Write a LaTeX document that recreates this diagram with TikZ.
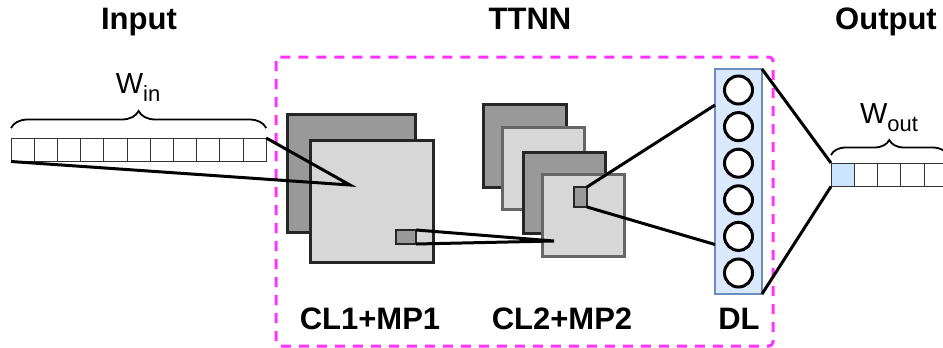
\documentclass[tikz,border=0pt]{standalone}
\usepackage{fontspec}
\setmainfont{Liberation Sans}
\usetikzlibrary{decorations.pathreplacing,calc}
\definecolor{mapgray}{HTML}{999999}
\definecolor{maplight}{HTML}{D7D7D7}
\definecolor{mapedge}{HTML}{262626}
\definecolor{mapedgelight}{HTML}{666666}
\definecolor{dlfill}{HTML}{DAE8FC}
\definecolor{dledge}{HTML}{6C8EBF}
\definecolor{outfill}{HTML}{CCE5FF}
\definecolor{framecol}{HTML}{FF33FF}
\newcommand\lowsub[1]{\raisebox{-8pt}{\fontsize{22}{22}\selectfont #1}}
\begin{document}
\begin{tikzpicture}[x=1pt,y=-1pt,
  box/.style={rectangle, inner sep=0pt, outer sep=0pt, anchor=north west},
  mapdark/.style={box, fill=mapgray, draw=mapedge, line width=3pt},
  maplightA/.style={box, fill=maplight, draw=mapedge, line width=3pt},
  maplightB/.style={box, fill=maplight, draw=mapedgelight, line width=3pt},
  cell/.style={box, draw=black!80, line width=1pt, minimum width=23.2pt, minimum height=23.5pt},
  link/.style={draw=black, line width=3pt},
  neuron/.style={circle, draw=black, line width=3pt, fill=white, minimum size=28pt, inner sep=0pt},
  dlbox/.style={box, fill=dlfill, draw=dledge, line width=2.5pt},
  bracestyle/.style={draw=black, line width=1.8pt, decorate, decoration={brace, amplitude=#1}},
  title/.style={anchor=base, font=\fontsize{31}{36}\selectfont\bfseries},
  wlabel/.style={anchor=base, font=\fontsize{29}{34}\selectfont},
  frame/.style={draw=framecol, line width=3pt, dash pattern=on 10pt off 8pt, rounded corners=4pt}
]
\path[use as bounding box] (0,0) rectangle (943,348);
\clip (0,0) rectangle (943,348);

% headings
\node[title] (hin) at (139,29) {Input};
\node[title] (httnn) at (530,29) {TTNN};
\node[title] (hout) at (886,29) {Output};

% network frame
\draw[frame] (276,57) rectangle (773,346);

% input window
\foreach \i in {1,...,11}
  \node[cell] (in\i) at ({11+(\i-1)*23.2},138) {};
\draw[bracestyle=17pt] ([yshift=10pt]in1.north west) -- ([yshift=10pt]in11.north east);
\node[wlabel] (win) at (138,93) {W\lowsub{in}};

% first convolution + pooling
\node[mapdark, minimum width=128pt, minimum height=118pt] (c1a) at (287,114) {};
\node[maplightA, minimum width=123pt, minimum height=122pt] (c1b) at (310,140) {};
\node[mapdark, line width=2.5pt, minimum width=20pt, minimum height=14pt] (k1) at (396,230) {};
\coordinate (p1) at (350,185);
\draw[link] (in11.north east) -- (p1) -- (in1.south west);

% second convolution + pooling
\node[mapdark, minimum width=83pt, minimum height=83pt] (c2a) at (483,104) {};
\node[maplightB, minimum width=82pt, minimum height=82pt] (c2b) at (502,127) {};
\node[mapdark, minimum width=82pt, minimum height=81pt] (c2c) at (523,152) {};
\node[maplightB, minimum width=82pt, minimum height=82pt] (c2d) at (542,174) {};
\node[mapdark, line width=2.5pt, minimum width=13pt, minimum height=20pt] (k2) at (574,187) {};
\coordinate (p2) at (554,241);
\draw[link] (k1.north east) -- (p2) -- (k1.south east);

% dense layer
\node[dlbox, minimum width=47pt, minimum height=225pt] (dl) at (715,69) {};
\foreach \j in {1,...,6}
  \node[neuron] (n\j) at (738.5,{90+(\j-1)*36.6}) {};
\draw[link] (k2.north east) -- ($(dl.north west)!0.16!(dl.south west)$);
\draw[link] (k2.south east) -- ($(dl.north west)!0.78!(dl.south west)$);

% output window
\foreach \i in {1,...,6}
  \node[cell, minimum width=23.3pt] (out\i) at ({831+(\i-1)*23.3},163) {};
\node[cell, fill=outfill, minimum width=23.3pt] (out1) at (831,163) {};
\draw[bracestyle=15pt] ([yshift=8pt]out1.north west) -- ([yshift=8pt]out5.north east);
\node[wlabel] (wout) at (889,123) {W\lowsub{out}};
\draw[link] (dl.north east) -- (out1.north west);
\draw[link] (dl.south east) -- (out1.south west);

% layer captions
\node[title] (l1) at (370,329) {CL1+MP1};
\node[title] (l2) at (562,329) {CL2+MP2};
\node[title] (l3) at (739,329) {DL};
\end{tikzpicture}
\end{document}
